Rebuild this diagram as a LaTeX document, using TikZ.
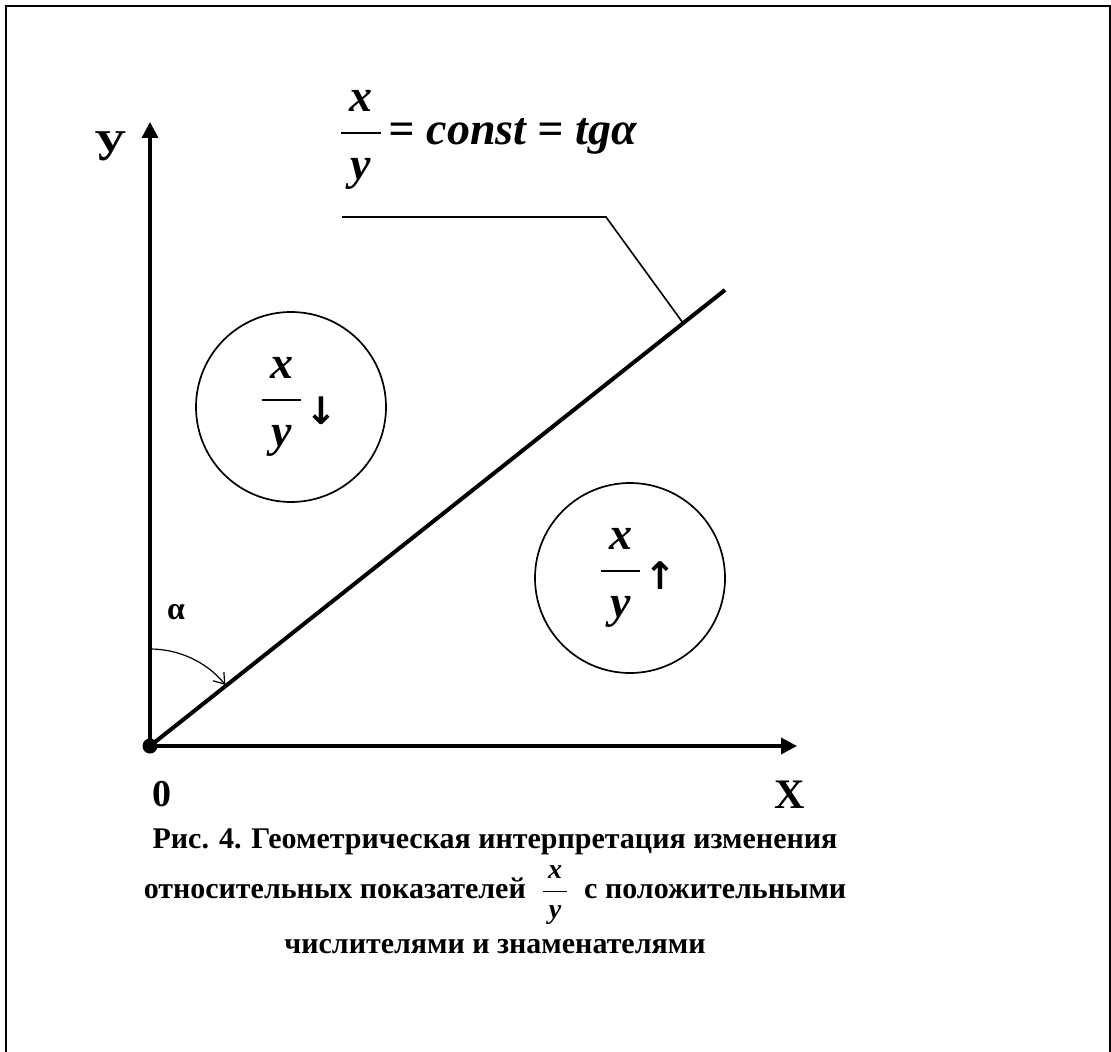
\documentclass[tikz,border=0pt]{standalone}
\usepackage{amsmath}
\usepackage{fontspec}
\setmainfont{Liberation Serif}
\newfontfamily\arrowfont{DejaVu Sans}
\usetikzlibrary{arrows.meta}
\newcommand{\bi}[1]{\textbf{\textit{#1}}}
\newcommand{\xfrac}{$\displaystyle\frac{\,\bi{x}\,}{\,\bi{y}\,}$}
\newcommand{\capfrac}{$\displaystyle\frac{\,\textit{x}\,}{\,\textit{y}\,}$}
\begin{document}
\begin{tikzpicture}[x=0.5pt,y=0.5pt,
  axis/.style={line width=1.7pt,-{Triangle[length=8pt,width=8pt]}},
  ring/.style={draw,circle,line width=0.85pt,minimum size=95pt,inner sep=0pt},
  big/.style={font=\fontsize{23}{27}\selectfont,inner sep=0pt},
  trend/.style={font=\fontsize{19}{19}\selectfont\arrowfont\bfseries,inner sep=0pt},
  caption/.style={font=\fontsize{15}{18}\selectfont\bfseries}]
  \useasboundingbox (0,0) rectangle (1111,-1052);
  % Frame
  \draw[line width=1pt] (6,-1060) -- (6,-6) -- (1109.5,-6) -- (1109.5,-1060);
  % Axes
  \coordinate (O) at (150,-746);
  \coordinate (ytip) at (150,-122);
  \coordinate (xtip) at (797,-746);
  \draw[axis] (O) -- (ytip);
  \draw[axis] (O) -- (xtip);
  \fill (O) circle (7.5);
  \node[font=\fontsize{22}{22}\selectfont\bfseries,anchor=base] (ylab) at (111,-161) {У};
  \node[font=\fontsize{21}{21}\selectfont\bfseries,anchor=base] (xlab) at (790,-808) {X};
  \node[font=\fontsize{19}{19}\selectfont\bfseries,anchor=base] (zero) at (162,-806) {0};
  % Line x/y = const
  \coordinate (lend) at (725,-290);
  \draw[line width=2pt] (O) -- (lend);
  \coordinate (k1) at (342,-217);
  \coordinate (k2) at (606,-217);
  \coordinate (k3) at (683,-323);
  \draw[line width=0.8pt] (k1) -- (k2) -- (k3);
  \node[big,anchor=base] (law) at (488,-145) {\xfrac\kern3pt\bi{= const = tgα}};
  % Angle alpha
  \coordinate (a1) at (150,-649);
  \draw[line width=0.6pt,-{Straight Barb[length=5pt,width=7pt]}] (a1) arc[start angle=90,end angle=39,radius=97];
  \node[font=\fontsize{16}{16}\selectfont\bfseries] (alab) at (176,-612) {α};
  % Regions
  \node[ring] (up) at (291,-407) {};
  \node[big] (upf) at (281.5,-407) {\xfrac};
  \node[trend] (upa) at (321,-411) {↓};
  \node[ring] (down) at (630,-578) {};
  \node[big] (downf) at (620.5,-578) {\xfrac};
  \node[trend] (downa) at (660,-576) {↑};
  % Caption
  \node[caption] (cap1) at (495,-842) {Рис. 4. Геометрическая интерпретация изменения};
  \node[caption] (cap2) at (495,-895) {относительных показателей \ {\fontsize{14}{16}\selectfont\capfrac}\ \ с положительными};
  \node[caption] (cap3) at (495,-947) {числителями и знаменателями};
\end{tikzpicture}
\end{document}
